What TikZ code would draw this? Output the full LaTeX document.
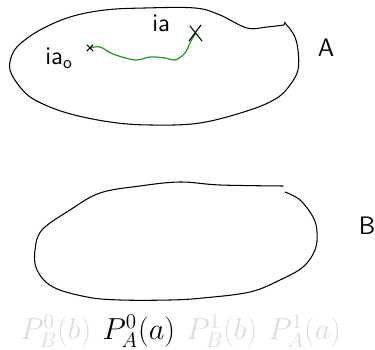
\documentclass[tikz,border=0pt]{standalone}
\usepackage{xcolor}
\definecolor{pathgreen}{RGB}{40,150,40}
\definecolor{faded}{RGB}{220,220,220}
\usepackage{tikz}
\usetikzlibrary{positioning}

\begin{document}
\begin{tikzpicture}[
  x=0.02cm, y=-0.02cm,
  outline/.style={line width=0.6pt, line cap=round, line join=round},
  walk/.style={pathgreen, line width=0.7pt, line cap=round},
  cross/.style={line width=0.6pt, line cap=round},
  hand/.style={font=\sffamily\Large, inner sep=0pt},
  setname/.style={font=\sffamily\Large, inner sep=0pt},
  term/.style={font=\LARGE, inner sep=0pt},
  faint/.style={term, text=faded},
]
  \useasboundingbox (0,0) rectangle (375,350);

  % Menge A
  \draw[outline] plot[smooth, tension=0.6] coordinates {
    (285,23) (294,35) (298,50) (298,70) (290,85) (277,98) (250,110)
    (200,123) (150,125) (110,122) (67,113) (35,100) (20,87) (10,70)
    (12,55) (20,44) (40,30) (70,17) (105,10) (145,8) (195,8) (220,15)
    (247,28) (267,27) (284,25)} -- (285,22);
  \node[setname] (lblA) at (326,48) {A};

  % Pfad von ia_0 nach ia
  \coordinate (start) at (90,48);
  \coordinate (end) at (196,33);
  \draw[walk] plot[smooth, tension=0.6] coordinates {
    (start) (100,47) (113,54) (135,60) (150,57) (165,58) (175,60)
    (185,53) (191,41) (end)};
  \draw[cross] (start) +(-3,-3) -- +(3,3) (start) +(-3,3) -- +(3,-3);
  \draw[cross] (end) +(-6,-7) -- +(6,8) (end) +(5,-8) -- +(-7,8);
  \node[hand, anchor=base west] (iazero) at (45,65) {ia\textsubscript{o}};
  \node[hand, anchor=base west] (ia) at (152,32) {ia};

  % Menge B
  \draw[outline] plot[smooth, tension=0.6] coordinates {
    (285,192) (300,200) (313,217) (317,232) (315,250) (303,267)
    (280,280) (250,292) (203,298) (170,300) (120,300) (87,297)
    (53,287) (37,270) (35,250) (42,230) (70,210) (100,193) (140,186)
    (180,182) (220,185) (283,186)};
  \node[setname] (lblB) at (367,226) {B};

  % Terme
  \node[faint, anchor=base west] (pb0) at (20,340) {$P_B^0(b)$};
  \node[term, base right=6pt of pb0] (pa0) {$P_A^0(a)$};
  \node[faint, base right=6pt of pa0] (pb1) {$P_B^1(b)$};
  \node[faint, base right=6pt of pb1] (pa1) {$P_A^1(a)$};
\end{tikzpicture}
\end{document}
